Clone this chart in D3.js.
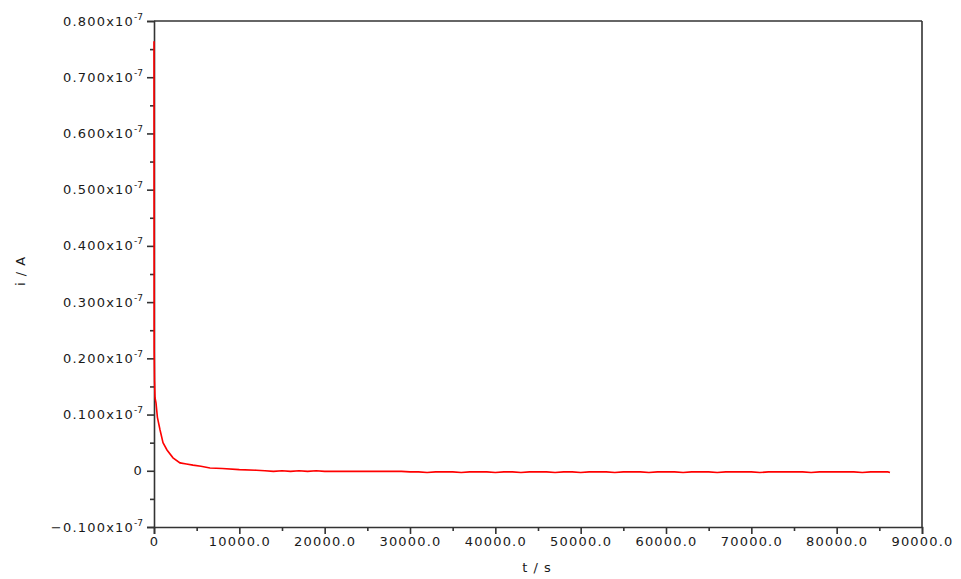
<!DOCTYPE html>
<html>
<head>
<meta charset="utf-8">
<script src="https://cdn.jsdelivr.net/npm/d3@7"></script>
<style>
    body { margin: 0; background: #fff; }
    text { font-family: "DejaVu Sans", Verdana, sans-serif; fill: #1a1a1a; }
</style>
</head>
<body>
<div id="chart"></div>
<script>
// Time in seconds
var times = [0, 20, 60, 120, 234, 400, 703, 1055, 1523, 2227, 3047, 3800, 4570, 5500, 6563, 8000, 10000, 12000,
    13000, 14000, 15000, 16000, 17000, 18000, 19000, 20000, 21000, 22000, 23000, 24000, 25000, 26000, 27000, 28000, 29000,
    30000, 31000, 32000, 33000, 34000, 35000, 36000, 37000, 38000, 39000, 40000, 41000, 42000, 43000, 44000, 45000,
    46000, 47000, 48000, 49000, 50000, 51000, 52000, 53000, 54000, 55000, 56000, 57000, 58000, 59000, 60000, 61000,
    62000, 63000, 64000, 65000, 66000, 67000, 68000, 69000, 70000, 71000, 72000, 73000, 74000, 75000, 76000, 77000,
    78000, 79000, 80000, 81000, 82000, 83000, 84000, 85000, 86000, 86250];

// Current in units of 1e-7 A
var currents = [0.764, 0.218, 0.160, 0.130, 0.121, 0.095, 0.073, 0.050, 0.037, 0.023, 0.014, 0.012, 0.010, 0.008, 0.005, 0.004, 0.002, 0.001,
    0.000, -0.001, 0.000, -0.001, 0.000, -0.001, 0.000, -0.001, -0.001, -0.001, -0.001, -0.001, -0.001, -0.001, -0.001, -0.001, -0.001,
    -0.002, -0.002, -0.003, -0.002, -0.002, -0.002, -0.003, -0.002, -0.002, -0.002, -0.003, -0.002, -0.002, -0.003, -0.002, -0.002,
    -0.002, -0.003, -0.002, -0.002, -0.003, -0.002, -0.002, -0.002, -0.003, -0.002, -0.002, -0.002, -0.003, -0.002, -0.002, -0.002,
    -0.003, -0.002, -0.002, -0.002, -0.003, -0.002, -0.002, -0.002, -0.002, -0.003, -0.002, -0.002, -0.002, -0.002, -0.002, -0.003,
    -0.002, -0.002, -0.002, -0.002, -0.002, -0.003, -0.002, -0.002, -0.002, -0.003, -0.002];

// Tick values
var yTicks = [-0.1, 0, 0.1, 0.2, 0.3, 0.4, 0.5, 0.6, 0.7, 0.8];
var yMinorTicks = [-0.05, 0.05, 0.15, 0.25, 0.35, 0.45, 0.55, 0.65, 0.75];
var xTicks = [0, 10000, 20000, 30000, 40000, 50000, 60000, 70000, 80000, 90000];
var xMinorTicks = [5000, 15000, 25000, 35000, 45000, 55000, 65000, 75000, 85000];

var data = times.map(function(t, i) { return {t: t, i: currents[i]}; });

var margin = {top: 21, right: 39, bottom: 52, left: 154},
    width = 961 - margin.left - margin.right,
    height = 579 - margin.top - margin.bottom;

var x = d3.scaleLinear().domain([0, 90000]).range([0, width]);
var y = d3.scaleLinear().domain([-0.1, 0.8]).range([height, 0]);

var svg = d3.select("#chart").append("svg")
    .attr("width", 961)
    .attr("height", 579)
    .append("g")
    .attr("transform", "translate(" + margin.left + "," + margin.top + ")");

var axisColor = "#333";

// frame (top and right)
svg.append("line")
    .attr("x1", 0).attr("x2", width)
    .attr("y1", 0).attr("y2", 0)
    .attr("stroke", axisColor).attr("stroke-width", 1.6);
svg.append("line")
    .attr("x1", width).attr("x2", width)
    .attr("y1", 0).attr("y2", height)
    .attr("stroke", axisColor).attr("stroke-width", 1.6);

// Y axis
svg.append("g")
    .call(d3.axisLeft(y).tickValues(yTicks).tickSize(7).tickFormat(""));
svg.append("g")
    .call(d3.axisLeft(y).tickValues(yMinorTicks).tickSize(4).tickFormat(""))
    .select(".domain").remove();

// X axis
svg.append("g")
    .attr("transform", "translate(0," + height + ")")
    .call(d3.axisBottom(x).tickValues(xTicks).tickSize(7).tickFormat(function(d) {
        return d === 0 ? "0" : d3.format(".1f")(d);
    }));
svg.append("g")
    .attr("transform", "translate(0," + height + ")")
    .call(d3.axisBottom(x).tickValues(xMinorTicks).tickSize(4).tickFormat(""))
    .select(".domain").remove();

svg.selectAll(".domain, .tick line")
    .attr("stroke", axisColor)
    .attr("stroke-width", 1.6);

svg.selectAll(".tick text")
    .style("font-size", "13px")
    .style("letter-spacing", "1.2px")
    .attr("fill", "#1a1a1a");

// the current curve, drawn over the axes
var line = d3.line()
    .x(function(d) { return x(d.t); })
    .y(function(d) { return y(d.i); });

svg.append("path")
    .datum(data)
    .attr("fill", "none")
    .attr("stroke", "#ff0000")
    .attr("stroke-width", 1.6)
    .attr("d", line);

// Y tick labels with superscript exponent
var yLabels = svg.append("g");
yTicks.forEach(function(v) {
    var t = yLabels.append("text")
        .attr("x", -11)
        .attr("y", y(v))
        .attr("dy", "0.35em")
        .attr("text-anchor", "end")
        .style("font-size", "13px")
        .style("letter-spacing", "1.2px");
    if (v === 0) {
        t.text("0");
    } else {
        t.append("tspan").text(d3.format(".3f")(v) + "x10");
        t.append("tspan")
            .attr("dy", "-6")
            .style("font-size", "9px")
            .style("letter-spacing", "0px")
            .text("-7");
    }
});

// axis titles
svg.append("text")
    .attr("transform", "rotate(-90)")
    .attr("x", -(271 - margin.top))
    .attr("y", -129)
    .attr("text-anchor", "middle")
    .style("font-size", "13px")
    .style("letter-spacing", "1px")
    .text("i / A");

svg.append("text")
    .attr("x", 537 - margin.left)
    .attr("y", 572 - margin.top)
    .attr("text-anchor", "middle")
    .style("font-size", "13px")
    .style("letter-spacing", "1px")
    .text("t / s");
</script>
</body>
</html>
